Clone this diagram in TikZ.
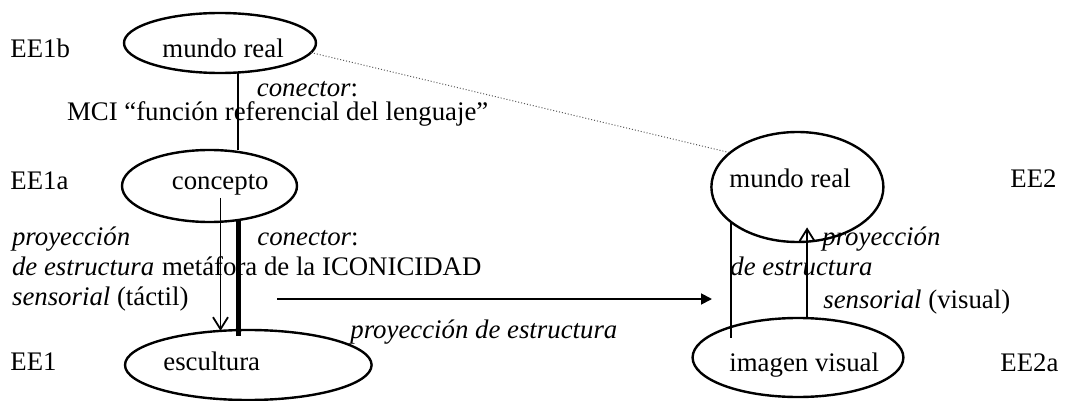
\documentclass[tikz,border=0pt]{standalone}
\usepackage{fontspec}
\setmainfont{Liberation Serif}
\usetikzlibrary{arrows.meta, shapes.geometric}

\begin{document}
\begin{tikzpicture}[x=0.5pt, y=-0.5pt, font=\fontsize{13.4}{15}\selectfont,
	ell/.style={draw, ellipse, line width=1.2pt, inner sep=0pt, outer sep=0pt},
	txt/.style={inner sep=0pt, anchor=base west},
	conn/.style={line width=1pt},
	arr/.style={line width=0.9pt, -{Straight Barb[length=6pt, width=7.5pt, line width=0.9pt]}},
	harr/.style={line width=0.9pt, -{Triangle[length=5.5pt, width=5.5pt]}}]
	\useasboundingbox (0,0) rectangle (1072,401);

	% ellipses
	\node[ell, minimum width=96pt, minimum height=30pt] (mundoA) at (220,43) {};
	\node[ell, minimum width=87.5pt, minimum height=36pt] (concepto) at (209.5,186) {};
	\node[ell, minimum width=123.3pt, minimum height=35pt] (escultura) at (248.3,365) {};
	\node[ell, minimum width=86pt, minimum height=55pt] (mundoB) at (797.4,187) {};
	\node[ell, minimum width=105.4pt, minimum height=39.5pt] (imagen) at (798,357.5) {};

	% texts
	\node[txt] (ee1b) at (10,58) {EE1b};
	\node[txt] (tmundoA) at (162,58) {mundo real};
	\node[txt] (con1) at (256.5,96.7) {\textit{conector}:};
	\node[txt] (mci) at (66.7,120.7) {MCI “función referencial del lenguaje”};
	\node[txt] (ee1a) at (10,190) {EE1a};
	\node[txt] (tconcepto) at (171.5,190) {concepto};
	\node[txt] (ee2) at (1010,188) {EE2};
	\node[txt] (tmundoB) at (729,188) {mundo real};
	\node[txt] (proyL) at (11.7,245) {\textit{proyección}};
	\node[txt] (con2) at (257,245) {\textit{conector}:};
	\node[txt] (estrL) at (11.7,276) {\textit{de estructura}};
	\node[txt] (metafora) at (161.7,276) {metáfora de la ICONICIDAD};
	\node[txt] (sensL) at (11.7,305) {\textit{sensorial} (táctil)};
	\node[txt] (proyR) at (822,245) {\textit{proyección}};
	\node[txt] (estrR) at (730,275) {\textit{de estructura}};
	\node[txt] (sensR) at (823,308) {\textit{sensorial} (visual)};
	\node[txt] (proyH) at (350,338) {\textit{proyección de estructura}};
	\node[txt] (ee1) at (10,370) {EE1};
	\node[txt] (tescultura) at (163,370) {escultura};
	\node[txt] (timagen) at (729,371) {imagen visual};
	\node[txt] (ee2a) at (1000,371) {EE2a};

	% connectors
	\draw[conn] (mundoA.-58) -- (mundoA.-58 |- concepto.north);
	\draw[densely dotted, gray!70!black, line width=0.5pt] (mundoA.-6) -- (mundoB.153);
	\coordinate (a1) at ([xshift=5.5pt, yshift=-6pt]concepto.center);
	\draw[arr] (a1) -- (a1 |- escultura.129);
	\draw[line width=2.5pt] (concepto.-50) -- ([yshift=-3pt]concepto.-50 |- escultura.north);
	\coordinate (hstart) at (277,299);
	\coordinate (hend) at (712,299);
	\draw[harr] (hstart) -- (hend);
	\draw[conn] (mundoB.208) -- ([yshift=-10pt]mundoB.208 |- imagen.north);
	\draw[arr] (imagen.77) -- ([yshift=7.3pt]imagen.77 |- mundoB.south);
\end{tikzpicture}
\end{document}
